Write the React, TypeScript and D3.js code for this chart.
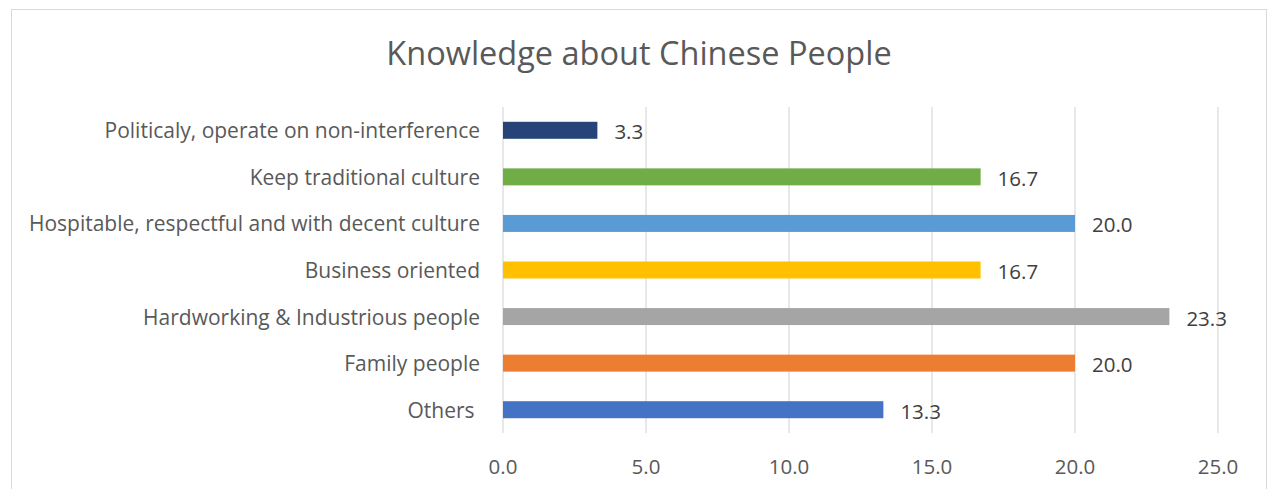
import React from "react";
import * as d3 from "d3";

const categories = [
  "Politicaly, operate on non-interference",
  "Keep traditional culture",
  "Hospitable, respectful and with decent culture",
  "Business oriented",
  "Hardworking & Industrious people",
  "Family people",
  "Others ",
];
const values = [3.3, 16.7, 20.0, 16.7, 23.3, 20.0, 13.3];
const colors = ["#264478", "#70AD47", "#5B9BD5", "#FFC000", "#A5A5A5", "#ED7D31", "#4472C4"];
const ticks = [0, 5, 10, 15, 20, 25];
const title = "Knowledge about Chinese People";

const W = 1270;
const H = 489;
const FONT = "'Open Sans', 'Liberation Sans', sans-serif";

export default function App() {
  const x = d3.scaleLinear().domain([0, 25]).range([503, 1218]);
  const y = d3.scaleBand<string>().domain(categories).range([107, 433]).paddingInner(0.635).paddingOuter(0.3175);
  return (
    <svg width={W} height={H} style={{ position: "absolute", left: 0, top: 0, background: "#fff" }}>
      <rect x={11.5} y={9.5} width={1255} height={490} fill="#fff" stroke="#d9d9d9" strokeWidth={1} />
      <text x={639} y={52} textAnchor="middle" dominantBaseline="central" fontFamily={FONT} fontSize={32.5} fill="#595959">
        {title}
      </text>
      {ticks.map((t) => (
        <line key={t} x1={x(t)} x2={x(t)} y1={107} y2={433} stroke="#d9d9d9" strokeWidth={1.2} />
      ))}
      {categories.map((c, i) => (
        <g key={c}>
          <rect x={x(0)} y={y(c)!} width={x(values[i]) - x(0)} height={y.bandwidth()} fill={colors[i]} />
          <text
            x={480}
            y={y(c)! + y.bandwidth() / 2}
            textAnchor="end"
            dominantBaseline="central"
            fontFamily={FONT}
            fontSize={21}
            fill="#595959"
            style={{ whiteSpace: "pre" }}
          >
            {c}
          </text>
          <text
            x={x(values[i]) + 17}
            y={y(c)! + y.bandwidth() / 2 + 1}
            dominantBaseline="central"
            fontFamily={FONT}
            fontSize={20.5}
            fill="#404040"
          >
            {values[i].toFixed(1)}
          </text>
        </g>
      ))}
      {ticks.map((t) => (
        <text key={"l" + t} x={x(t)} y={466} textAnchor="middle" dominantBaseline="central" fontFamily={FONT} fontSize={20.5} fill="#595959">
          {t.toFixed(1)}
        </text>
      ))}
    </svg>
  );
}
